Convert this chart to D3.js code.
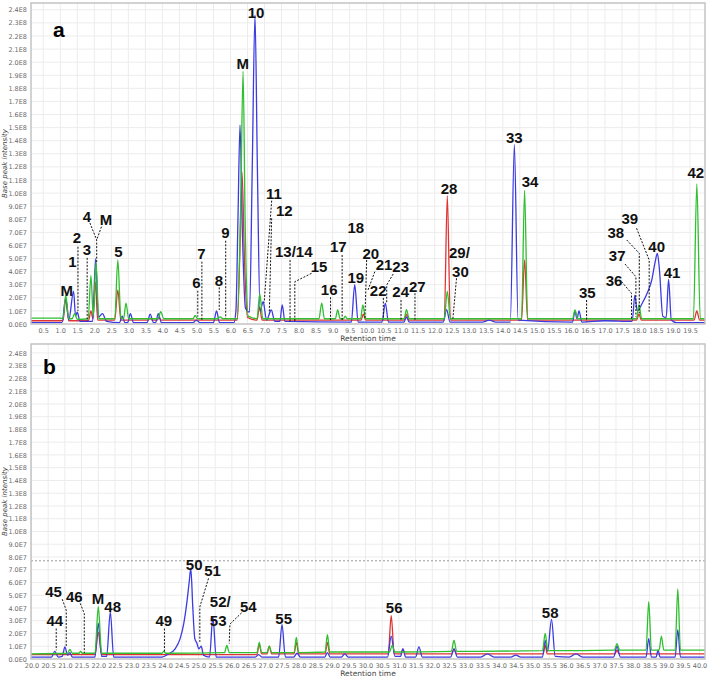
<!DOCTYPE html>
<html>
<head>
<meta charset="utf-8">
<script src="https://cdn.jsdelivr.net/npm/d3@7"></script>
<style>
body { margin: 0; background: #fff; }
svg { display: block; }
</style>
</head>
<body>
<div id="wrapper"></div>
<script>
// intensities are in units of 1E7, retention time in minutes

// ---- panel a (0-20 min)
const aBlue = [[0.14,0.1],[1.05,0.1],[1.16,2.0],[1.25,0.3],[1.39,2.5],[1.45,0.6],[1.5,0.9],[1.58,0.2],[1.95,0.2],[2.04,5.0],[2.12,0.5],[2.24,0.8],[2.36,0.2],[2.74,0.1],[2.82,0.6],[2.9,0.1],[2.98,0.1],[3.06,0.8],[3.15,0.1],[3.55,0.1],[3.64,0.75],[3.74,0.1],[3.8,0.1],[3.88,0.8],[3.97,0.1],[4.9,0.1],[5.0,0.3],[5.1,0.1],[5.5,0.1],[5.59,1.0],[5.68,0.1],[6.1,0.1],[6.16,1.0],[6.22,8.0],[6.28,15.2],[6.35,7.0],[6.44,1.2],[6.56,0.9],[6.64,12.0],[6.72,23.6],[6.79,12.0],[6.87,1.0],[6.96,1.7],[7.06,0.3],[7.2,1.07],[7.3,0.2],[7.45,0.2],[7.52,1.45],[7.6,0.2],[9.55,0.15],[9.65,3.0],[9.75,0.15],[10.45,0.15],[10.55,1.6],[10.64,0.15],[11.1,0.15],[11.17,0.55],[11.25,0.15],[12.25,0.15],[12.35,1.1],[12.45,0.15],[13.4,0.15],[13.6,0.3],[13.8,0.15],[14.22,0.15],[14.34,13.7],[14.45,0.3],[16.05,0.15],[16.12,1.0],[16.18,0.4],[16.24,1.0],[16.32,0.15],[17.0,0.25],[17.8,0.2],[17.88,2.2],[17.95,1.0],[18.1,1.6],[18.25,2.4],[18.38,3.4],[18.48,4.8],[18.54,5.4],[18.6,4.2],[18.7,0.6],[18.8,0.5],[18.87,3.4],[18.95,0.3],[19.1,0.1],[19.94,0.1]];
const aGreen = [[0.14,0.45],[1.0,0.45],[1.08,0.4],[1.16,2.2],[1.25,0.4],[1.35,0.4],[1.42,0.8],[1.5,0.35],[1.82,0.4],[1.9,3.7],[1.97,0.6],[2.05,4.7],[2.13,0.4],[2.6,0.4],[2.69,4.9],[2.78,0.5],[2.86,0.4],[2.93,1.6],[3.01,0.4],[3.87,0.4],[3.95,0.95],[4.04,0.4],[4.9,0.4],[4.96,0.65],[5.04,0.4],[5.62,0.4],[5.7,0.55],[5.78,0.4],[6.2,0.4],[6.3,9.0],[6.37,19.3],[6.43,8.0],[6.52,0.6],[6.78,0.4],[6.86,2.3],[6.95,0.4],[8.6,0.4],[8.68,1.6],[8.76,0.4],[9.08,0.4],[9.15,1.07],[9.22,0.4],[9.32,0.4],[9.37,0.6],[9.43,0.4],[9.82,0.4],[9.89,1.45],[9.97,0.4],[11.1,0.4],[11.17,1.1],[11.25,0.4],[12.28,0.4],[12.37,2.5],[12.46,0.4],[14.55,0.4],[14.64,10.2],[14.73,0.4],[16.05,0.4],[16.12,1.07],[16.2,0.4],[17.93,0.4],[18.0,1.45],[18.08,0.4],[19.6,0.4],[19.7,10.7],[19.8,0.4],[19.94,0.4]];
const aRed = [[0.14,0.25],[1.08,0.25],[1.16,1.9],[1.25,0.25],[1.83,0.25],[1.9,1.0],[1.96,0.4],[2.03,3.2],[2.1,0.3],[2.6,0.3],[2.69,2.6],[2.78,0.3],[3.58,0.3],[3.64,0.45],[3.7,0.3],[3.85,0.3],[3.9,0.5],[3.96,0.3],[6.2,0.3],[6.27,5.0],[6.34,11.6],[6.41,5.0],[6.5,0.5],[6.78,0.3],[6.85,1.3],[6.93,0.3],[9.84,0.3],[9.9,0.75],[9.97,0.3],[11.1,0.3],[11.17,0.75],[11.24,0.3],[12.28,0.3],[12.37,9.8],[12.46,0.3],[14.55,0.3],[14.64,4.9],[14.73,0.3],[17.93,0.3],[18.0,0.75],[18.07,0.3],[19.62,0.3],[19.7,1.0],[19.78,0.3],[19.94,0.3]];

// ---- panel b (20-40 min)
const bBlue = [[19.98,0.15],[20.6,0.15],[20.7,0.6],[20.8,0.15],[20.92,0.2],[21.0,0.95],[21.08,0.3],[21.15,0.5],[21.22,0.15],[21.9,0.15],[22.0,2.8],[22.1,0.2],[22.25,0.2],[22.36,3.7],[22.46,0.15],[23.9,0.15],[24.1,0.4],[24.3,0.8],[24.45,1.6],[24.56,2.8],[24.65,4.4],[24.72,6.0],[24.77,7.1],[24.83,4.0],[24.89,1.6],[24.95,1.25],[25.01,0.8],[25.08,1.0],[25.15,0.3],[25.33,0.15],[25.43,3.3],[25.53,0.15],[26.7,0.15],[26.8,0.35],[26.9,0.15],[27.4,0.15],[27.5,2.7],[27.6,0.15],[27.85,0.15],[27.95,0.45],[28.05,0.15],[28.78,0.15],[28.86,0.5],[28.94,0.15],[29.28,0.15],[29.38,0.4],[29.48,0.15],[30.66,0.15],[30.77,1.8],[30.88,0.2],[31.05,0.2],[31.12,0.8],[31.2,0.15],[31.5,0.15],[31.6,0.95],[31.7,0.15],[32.55,0.15],[32.65,0.8],[32.75,0.15],[33.45,0.15],[33.65,0.4],[33.85,0.15],[34.35,0.15],[34.5,0.3],[34.65,0.15],[35.3,0.15],[35.38,1.45],[35.45,0.6],[35.57,3.1],[35.68,0.2],[36.1,0.15],[36.3,0.4],[36.5,0.15],[37.43,0.15],[37.53,1.0],[37.63,0.15],[38.4,0.15],[38.48,1.6],[38.56,0.15],[38.7,0.15],[38.76,0.7],[38.82,0.15],[39.27,0.15],[39.35,2.3],[39.43,0.15],[40.17,0.15]];
const bGreen = [[19.98,0.4],[21.08,0.45],[21.15,0.75],[21.22,0.45],[21.42,0.45],[21.47,0.6],[21.52,0.45],[21.9,0.45],[22.0,4.1],[22.1,0.45],[23.9,0.45],[23.96,0.6],[24.02,0.45],[25.78,0.5],[25.85,1.07],[25.92,0.5],[26.75,0.5],[26.82,1.3],[26.89,0.5],[27.05,0.5],[27.12,1.0],[27.19,0.5],[27.86,0.5],[27.93,1.7],[28.0,0.5],[28.79,0.55],[28.86,1.9],[28.93,0.55],[30.72,0.55],[30.8,1.07],[30.88,0.55],[32.57,0.6],[32.65,1.45],[32.73,0.6],[35.3,0.65],[35.38,2.0],[35.46,0.65],[37.45,0.7],[37.53,1.2],[37.61,0.7],[38.4,0.7],[38.48,4.5],[38.56,0.7],[38.79,0.7],[38.86,1.8],[38.93,0.7],[39.27,0.7],[39.35,5.5],[39.43,0.7],[40.17,0.7]];
const bRed = [[19.98,0.35],[21.9,0.35],[22.0,2.1],[22.1,0.35],[26.75,0.35],[26.82,1.15],[26.89,0.4],[27.05,0.4],[27.12,1.0],[27.19,0.4],[27.86,0.4],[27.93,1.3],[28.0,0.4],[28.79,0.4],[28.86,1.3],[28.93,0.4],[30.68,0.4],[30.77,3.4],[30.86,0.4],[31.06,0.4],[31.12,0.8],[31.18,0.4],[32.58,0.4],[32.65,0.8],[32.72,0.4],[35.32,0.4],[35.38,1.1],[35.44,0.4],[37.47,0.4],[37.53,0.7],[37.59,0.4],[40.17,0.4]];
const bThreshold = 7.7;

// peak labels: text, t, v (baseline of label), anchor, leader polyline
const aLabels = [
  ["M",1.19,2.14],["1",1.36,4.38],["2",1.49,6.16,"middle",[[1.52,5.9],[1.52,1.0]]],
  ["3",1.78,5.27,"middle",[[1.79,5.05],[1.79,0.2]]],
  ["4",1.78,7.8,"middle",[[1.87,7.72],[2.07,6.42],[2.07,4.74]]],
  ["M",2.34,7.56,"middle",[[2.21,7.43],[2.07,6.42]]],
  ["5",2.71,5.14],
  ["6",5.0,2.73,"middle",[[5.04,2.54],[5.04,0.56]]],
  ["7",5.15,4.94,"middle",[[5.16,4.76],[5.16,0.3]]],
  ["8",5.66,2.9,"middle",[[5.67,2.8],[5.67,1.07]]],
  ["9",5.85,6.55,"middle",[[5.86,6.36],[5.86,0.44]]],
  ["M",6.36,19.45],["10",6.75,23.4],
  ["11",7.28,9.53,"middle",[[7.21,9.42],[6.99,1.63]]],
  ["12",7.58,8.25,"middle",[[7.21,8.07],[7.14,0.82]]],
  ["13/14",7.86,5.1,"middle",[[7.75,4.89],[7.75,0.18]]],
  ["15",8.6,4.0,"middle",[[8.38,3.87],[7.89,3.23],[7.89,0.18]]],
  ["16",8.9,2.2,"middle",[[8.94,2.04],[8.94,0.3]]],
  ["17",9.17,5.5,"middle",[[9.28,5.27],[9.28,0.3]]],
  ["18",9.68,6.98],["19",9.68,3.1],
  ["20",10.12,5.0,"middle",[[10.0,4.89],[9.95,0.44]]],
  ["21",10.51,4.12,"middle",[[10.24,4.0],[10.04,2.6]]],
  ["22",10.34,2.14,"middle",[[10.49,1.99],[10.49,0.36]]],
  ["23",11.0,4.0,"middle",[[10.78,3.82],[10.59,2.98],[10.59,1.6]]],
  ["24",11.0,2.04,"middle",[[11.01,1.83],[11.01,0.3]]],
  ["27",11.49,2.47,"middle",[[11.42,2.35],[11.42,0.3]]],
  ["28",12.42,9.93],
  ["29/",12.42,5.02,"start"],
  ["30",12.51,3.61,"start",[[12.64,3.49],[12.53,0.3]]],
  ["33",14.34,13.83],["34",14.8,10.5],
  ["35",16.48,1.96,"middle",[[16.46,1.83],[16.46,0.18]]],
  ["36",17.27,2.9,"middle",[[17.49,3.23],[17.78,2.35],[17.78,0.36]]],
  ["37",17.36,4.84,"middle",[[17.59,4.58],[17.91,3.61],[17.91,0.56]]],
  ["38",17.32,6.55,"middle",[[17.64,6.42],[18.01,5.4],[18.01,0.82]]],
  ["39",17.73,7.64,"middle",[[17.93,7.31],[18.3,4.89],[18.3,0.94]]],
  ["40",18.52,5.52],["41",18.97,3.49],["42",19.67,11.15]
];
const bLabels = [
  ["44",20.7,2.57,"middle",[[20.74,2.39],[20.74,0.68]]],
  ["45",20.66,4.87,"middle",[[20.92,4.69],[21.04,3.83],[21.04,0.94]]],
  ["46",21.28,4.48,"middle",[[21.46,4.36],[21.58,3.57],[21.58,0.47]]],
  ["M",21.99,4.3],["48",22.43,3.7],
  ["49",23.96,2.57,"middle",[[23.98,2.39],[23.98,0.55]]],
  ["50",24.87,6.97],
  ["51",25.42,6.5,"middle",[[25.3,6.32],[25.04,4.09],[25.04,1.34]]],
  ["52/",25.34,4.04,"start"],["53",25.34,2.57,"start"],
  ["54",26.49,3.7,"middle",[[26.29,3.62],[25.94,2.73],[25.92,1.21]]],
  ["55",27.55,2.73],["56",30.86,3.57],["58",35.53,3.25]
];

const colors = {blue: "#3b3be0", green: "#2fbf2f", red: "#e03434"};

const panels = [
  {letter: "a", top: 3, bottom: 324, xDomain: [0.14, 19.94], yMax: 24.52,
   xTicks: d3.range(0.5, 19.51, 0.5), series: [["red", aRed], ["blue", aBlue], ["green", aGreen]],
   labels: aLabels, letterPos: [53, 37]},
  {letter: "b", top: 344, bottom: 659, xDomain: [19.985, 40.165], yMax: 24.7,
   xTicks: d3.range(20, 40.01, 0.5), series: [["red", bRed], ["blue", bBlue], ["green", bGreen]],
   labels: bLabels, letterPos: [43, 374], threshold: bThreshold}
];

const width = 708, height = 680;
const left = 31, right = 705;

const svg = d3.select("#wrapper").append("svg")
  .attr("width", width).attr("height", height)
  .style("font-family", "'Liberation Sans', Arial, sans-serif");

const fmtY = v => {
  if (v === 0) return "0.0E0";
  const e = Math.floor(Math.log10(v * 1e7) + 1e-9);
  return (v * 1e7 / Math.pow(10, e)).toFixed(1) + "E" + e;
};

function drawPanel(p) {
  const x = d3.scaleLinear().domain(p.xDomain).range([left, right]);
  const y = d3.scaleLinear().domain([0, p.yMax]).range([p.bottom, p.top]);
  const g = svg.append("g");

  // grid
  g.append("g").selectAll("line").data(p.xTicks).join("line")
    .attr("x1", d => x(d)).attr("x2", d => x(d))
    .attr("y1", p.top).attr("y2", p.bottom)
    .attr("stroke", "#ececec");
  g.append("g").selectAll("line").data(d3.range(1, 25)).join("line")
    .attr("x1", left).attr("x2", right)
    .attr("y1", d => y(d)).attr("y2", d => y(d))
    .attr("stroke", "#ececec");

  // axes
  const yAxis = g.append("g").attr("transform", `translate(${left},0)`)
    .call(d3.axisLeft(y).tickValues(d3.range(0, 25)).tickFormat(fmtY).tickSize(0).tickPadding(4));
  const xAxis = g.append("g").attr("transform", `translate(0,${p.bottom})`)
    .call(d3.axisBottom(x).tickValues(p.xTicks).tickFormat(d3.format(".1f")).tickSize(0).tickPadding(4));
  [yAxis, xAxis].forEach(a => {
    a.select(".domain").remove();
    a.selectAll("text").attr("fill", "#6a6a6a").style("font-size", "6.5px")
      .style("font-family", "'DejaVu Sans', sans-serif");
  });

  g.append("text").attr("x", (left + right) / 2).attr("y", p.bottom + 17)
    .attr("text-anchor", "middle").attr("fill", "#444").style("font-size", "7.5px")
    .style("font-family", "'DejaVu Sans', sans-serif").text("Retention time");
  g.append("text")
    .attr("transform", `translate(7,${(p.top + p.bottom) / 2}) rotate(-90)`)
    .attr("text-anchor", "middle").attr("fill", "#444").style("font-size", "7px")
    .style("font-style", "italic")
    .style("font-family", "'DejaVu Sans', sans-serif").text("Base peak intensity");

  if (p.threshold) {
    g.append("line").attr("x1", left).attr("x2", right)
      .attr("y1", y(p.threshold)).attr("y2", y(p.threshold))
      .attr("stroke", "#999").attr("stroke-dasharray", "2,2");
  }

  // traces
  const line = d3.line().x(d => x(d[0])).y(d => y(d[1])).curve(d3.curveMonotoneX);
  g.append("defs").append("clipPath").attr("id", "clip" + p.letter)
    .append("rect").attr("x", left).attr("y", p.top).attr("width", right - left).attr("height", p.bottom - p.top);
  const traces = g.append("g").attr("clip-path", `url(#clip${p.letter})`);
  p.series.forEach(([c, data]) => {
    traces.append("path").datum(data).attr("d", line)
      .attr("fill", "none").attr("stroke", colors[c]).attr("stroke-width", 1.3)
      .attr("stroke-linejoin", "round");
  });

  // frame
  g.append("rect").attr("x", left).attr("y", p.top)
    .attr("width", right - left).attr("height", p.bottom - p.top)
    .attr("fill", "none").attr("stroke", "#c4c4c4").attr("stroke-width", 1.5);

  // leaders and labels
  const leader = d3.line().x(d => x(d[0])).y(d => y(d[1]));
  p.labels.forEach(([txt, t, v, anchor, path]) => {
    if (path) {
      g.append("path").attr("d", leader(path)).attr("fill", "none")
        .attr("stroke", "#111").attr("stroke-width", 1).attr("stroke-dasharray", "2,1.5");
    }
    g.append("text").attr("x", x(t)).attr("y", y(v))
      .attr("text-anchor", anchor || "middle")
      .style("font-size", "15px").style("font-weight", "bold").attr("fill", "#111")
      .text(txt);
  });

  g.append("text").attr("x", p.letterPos[0]).attr("y", p.letterPos[1])
    .style("font-size", "21px").style("font-weight", "bold").attr("fill", "#000")
    .text(p.letter);
}

panels.forEach(drawPanel);
</script>
</body>
</html>
